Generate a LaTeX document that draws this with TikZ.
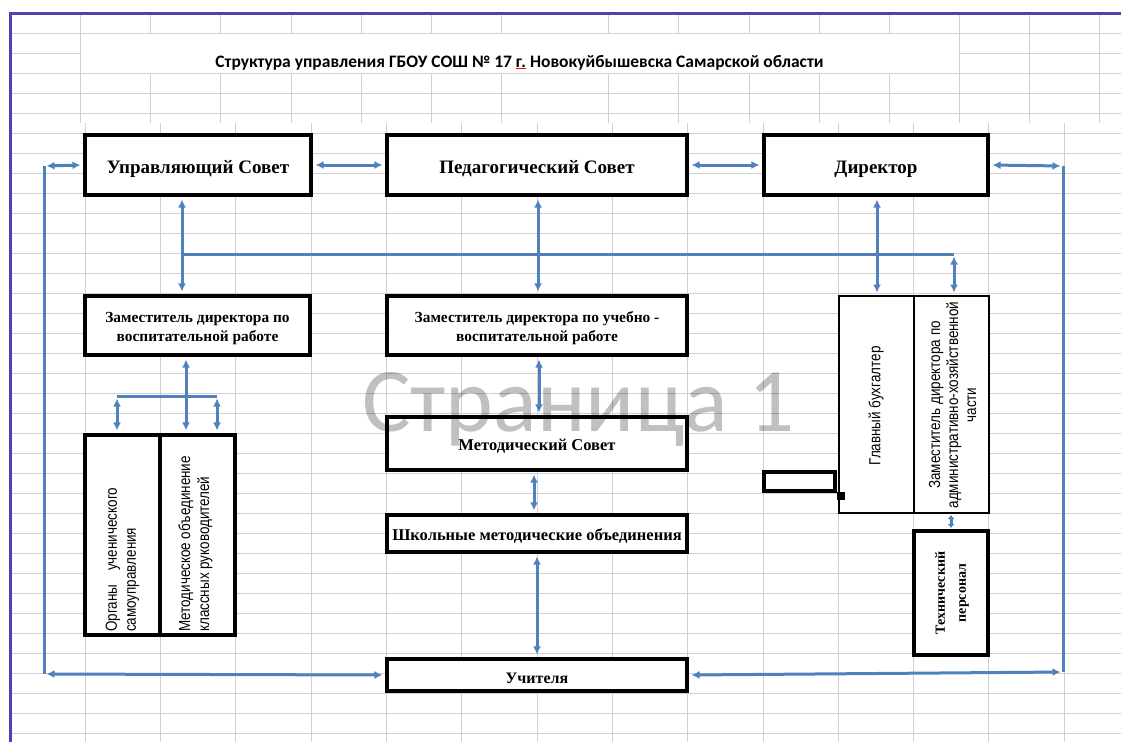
\documentclass[tikz,border=0pt]{standalone}
\usepackage{fontspec}
\setmainfont{Liberation Serif}
\newfontfamily\narrowsans[FakeStretch=0.84]{Liberation Sans}
\newfontfamily\calibfont{Carlito}
\usetikzlibrary{arrows.meta}
\definecolor{lineblue}{RGB}{79,129,189}
\definecolor{gridgray}{RGB}{208,208,208}
\definecolor{framepurple}{RGB}{84,62,178}
\definecolor{markgray}{RGB}{192,192,192}
\begin{document}
\begin{tikzpicture}[x=1pt,y=-1pt,
  box/.style={draw=black, line width=3.6pt, fill=white, inner sep=0pt},
  thinbox/.style={draw=black, line width=2pt, fill=white, inner sep=0pt},
  bigtext/.style={inner sep=0pt, align=center, font=\bfseries\fontsize{19}{22}\selectfont},
  midtext/.style={inner sep=0pt, align=center, font=\bfseries\fontsize{15.4}{19}\selectfont},
  lowtext/.style={inner sep=0pt, align=center, font=\bfseries\fontsize{16.5}{19}\selectfont},
  link/.style={draw=lineblue, line width=3pt, {Latex[length=8pt,width=8pt]}-{Latex[length=8pt,width=8pt]}, shorten <=2.5pt, shorten >=2.5pt},
  tinylink/.style={draw=lineblue, line width=3pt, {Latex[length=4pt,width=7pt]}-{Latex[length=4pt,width=7pt]}, shorten <=1pt, shorten >=1pt},
  wire/.style={draw=lineblue, line width=3pt},
  gridline/.style={draw=gridgray, line width=1pt},
  rottext/.style={rotate=90, inner sep=0pt, font=\narrowsans\fontsize{16}{18}\selectfont},
]
\useasboundingbox (0,0) rectangle (1121,742);
\fill[white] (0,0) rectangle (1121,742);
% grid
\foreach \k in {1,...,36}{
  \pgfmathsetmacro\yy{13+20*\k}
  \ifnum\k=2
    \draw[gridline] (10,\yy) -- (80,\yy) (959,\yy) -- (1121,\yy);
  \else
    \draw[gridline] (10,\yy) -- (1121,\yy);
  \fi
}
\foreach \xx in {150,220,291,361,431,501,608,678,749,819,889}{
  \draw[gridline] (\xx,13) -- (\xx,33) (\xx,73) -- (\xx,123);
}
\foreach \xx in {80,959,1029,1099}{
  \draw[gridline] (\xx,13) -- (\xx,123);
}
\foreach \k in {1,...,14}{
  \pgfmathsetmacro\xx{10+75.3*\k}
  \draw[gridline] (\xx,123) -- (\xx,742);
}
\draw[framepurple, line width=3pt] (10,742) -- (10,13) -- (1121,13);
% title
\node[anchor=base, inner sep=0pt, font=\calibfont\bfseries\fontsize{17.5}{20}\selectfont] (title) at (519.5,67)
  {Структура управления ГБОУ СОШ № 17 {\color{red}$\underline{\hbox{\color{black}г.}}$} Новокуйбышевска Самарской области};
% boxes
\node[box, minimum width=226.5pt, minimum height=60.5pt] (us) at (198,165) {};
\node[box, minimum width=300.5pt, minimum height=60.5pt] (ps) at (537,165) {};
\node[box, minimum width=224.5pt, minimum height=60.5pt] (dir) at (876,165) {};
\node[box, minimum width=225.5pt, minimum height=59.5pt] (zvr) at (197.5,325.5) {};
\node[box, minimum width=300.5pt, minimum height=59.5pt] (zuvr) at (537,325.5) {};
\node[box, minimum width=300.5pt, minimum height=53.5pt] (ms) at (537,443.5) {};
\node[box, minimum width=300.5pt, minimum height=37.5pt] (shmo) at (537,533.5) {};
\node[box, minimum width=300.5pt, minimum height=32.5pt] (uch) at (537,675) {};
\node[box, minimum width=150.5pt, minimum height=200.5pt] (org) at (160,535) {};
\draw[black, line width=3.6pt] (org.north) -- (org.south);
\node[thinbox, minimum width=150pt, minimum height=217pt] (gb) at (914,404.5) {};
\draw[black, line width=2pt] (gb.north) -- (gb.south);
\node[box, minimum width=71.5pt, minimum height=19.5pt] (small) at (799.5,481.5) {};
\node[fill=black, inner sep=0pt, minimum size=8pt] (sq) at (841,496) {};
\node[box, minimum width=74.5pt, minimum height=124.5pt] (tech) at (951,593) {};
% box texts
\node[bigtext] (us-t) at ([yshift=-4pt]us.center) {Управляющий Совет};
\node[bigtext] (ps-t) at ([yshift=-4pt]ps.center) {Педагогический Совет};
\node[bigtext] (dir-t) at ([yshift=-4pt]dir.center) {Директор};
\node[midtext] (zvr-t) at ([yshift=-3pt]zvr.center) {Заместитель директора по\\воспитательной работе};
\node[midtext] (zuvr-t) at ([yshift=-3pt]zuvr.center) {Заместитель директора по учебно -\\воспитательной работе};
\node[lowtext] (ms-t) at ([yshift=-3pt]ms.center) {Методический Совет};
\node[lowtext] (shmo-t) at ([yshift=-3pt]shmo.center) {Школьные методические объединения};
\node[lowtext, font=\bfseries\fontsize{16}{19}\selectfont] (uch-t) at ([yshift=-3pt]uch.center) {Учителя};
% rotated texts
\node[rottext] (gbt) at (876,406) {Главный бухгалтер};
\node[rottext, align=center] (axt) at (952.5,405) {Заместитель директора по\\административно-хозяйственной\\части};
\node[rottext, anchor=west, align=left, font=\narrowsans\fontsize{16}{19}\selectfont] (o1t) at (122.5,632) {Органы\hspace{14pt}ученического\\самоуправления};
\node[rottext, anchor=west, align=left, font=\narrowsans\fontsize{16}{19}\selectfont] (o2t) at (195.5,632) {Методическое объединение\\классных руководителей};
\node[rotate=90, inner sep=0pt, align=center, font=\bfseries\fontsize{14}{21}\selectfont] (tt) at (952,593) {Технический\\персонал};
% connectors
\coordinate (lt) at (44,166);
\coordinate (lb) at (44,674);
\coordinate (rt) at (1063,166);
\coordinate (rb) at (1063,672);
\draw[link] (lt) -- (us.west);
\draw[wire] (lt) -- (lb);
\draw[link] (lb) -- (uch.west);
\draw[link] (us.east) -- (ps.west);
\draw[link] (ps.east) -- (dir.west);
\draw[link] (dir.east) -- (rt);
\draw[wire] (rt) -- (rb);
\draw[link] (uch.east) -- (rb);
\coordinate (hl) at (182,254);
\coordinate (hr) at (954,254);
\draw[link] ([xshift=-16pt]us.south) -- ([xshift=-15.5pt]zvr.north);
\draw[wire] (hl) -- (hr);
\draw[link] (hr) -- ([xshift=40pt]gb.north);
\draw[link] ([xshift=1pt]ps.south) -- ([xshift=1pt]zuvr.north);
\draw[link] ([xshift=1pt]dir.south) -- ([xshift=-37pt]gb.north);
\draw[link] ([xshift=2pt]zuvr.south) -- ([xshift=2pt]ms.north);
\draw[link] ([xshift=-3pt]ms.south) -- ([xshift=-3pt]shmo.north);
\draw[link] (shmo.south) -- (uch.north);
\draw[link] ([xshift=-11.5pt]zvr.south) -- ([xshift=26pt]org.north);
\coordinate (ol) at (117,396);
\coordinate (or) at (217,396);
\draw[wire] (ol) -- (or);
\draw[link] (ol) -- ([xshift=-43pt]org.north);
\draw[link] (or) -- ([xshift=57pt]org.north);
\draw[tinylink] ([xshift=37pt]gb.south) -- (tech.north);
% watermark
\begin{scope}[blend mode=multiply]
\node[anchor=base west, inner sep=0pt, text=markgray, font=\calibfont\fontsize{91}{95}\selectfont] (wm) at (362,431) {Страница 1};
\end{scope}
\end{tikzpicture}
\end{document}
